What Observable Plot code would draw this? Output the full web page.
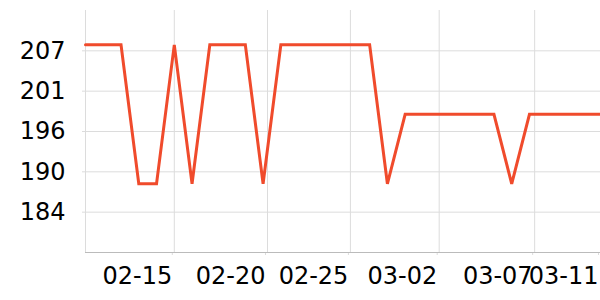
<!DOCTYPE html>
<html>
<head>
<meta charset="utf-8">
<script src="https://cdn.jsdelivr.net/npm/d3@7"></script>
<script src="https://cdn.jsdelivr.net/npm/@observablehq/plot@0.6"></script>
<style>
  html, body { margin: 0; padding: 0; background: #fff; }
</style>
</head>
<body>
<div id="chart"></div>
<script>
const dates = [
  "2023-02-10", "2023-02-11", "2023-02-12", "2023-02-13", "2023-02-14",
  "2023-02-15", "2023-02-16", "2023-02-17", "2023-02-18", "2023-02-19",
  "2023-02-20", "2023-02-21", "2023-02-22", "2023-02-23", "2023-02-24",
  "2023-02-25", "2023-02-26", "2023-02-27", "2023-02-28", "2023-03-01",
  "2023-03-02", "2023-03-03", "2023-03-04", "2023-03-05", "2023-03-06",
  "2023-03-07", "2023-03-08", "2023-03-09", "2023-03-10", "2023-03-11"
];
const values = [
  208, 208, 208, 188.2, 188.2,
  208, 188.2, 208, 208, 208,
  188.2, 208, 208, 208, 208,
  208, 208, 188.2, 198.1, 198.1,
  198.1, 198.1, 198.1, 198.1, 188.2,
  198.1, 198.1, 198.1, 198.1, 198.1
];
// tick times as they sit on the reference axis, and their labels
const xTickTimes = [
  "2023-02-15T00:00", "2023-02-20T06:00", "2023-02-24T22:00",
  "2023-03-01T22:00", "2023-03-07T07:00", "2023-03-11T00:00"
];
const xTickLabels = ["02-15", "02-20", "02-25", "03-02", "03-07", "03-11"];
const yDomain = [178.4, 212.9];
const yTicks = [184.15, 189.9, 195.65, 201.4, 207.15];
const yTickLabels = ["184", "190", "196", "201", "207"];

const parseDay = s => new Date(s + "T00:00:00Z");
const parseTime = s => new Date(s + ":00Z");
const data = dates.map((d, i) => ({ date: parseDay(d), value: values[i] }));
const xTicks = xTickTimes.map(parseTime);
const xLabelOf = new Map(xTicks.map((t, i) => [+t, xTickLabels[i]]));
const yLabelOf = new Map(yTicks.map((t, i) => [t, yTickLabels[i]]));

const chart = Plot.plot({
  width: 600,
  height: 300,
  marginLeft: 85,
  marginRight: 0,
  marginTop: 10,
  marginBottom: 48,
  style: { fontFamily: "DejaVu Sans", fontSize: "24px", background: "#fff", color: "#000" },
  x: { type: "utc", domain: [data[0].date, data[data.length - 1].date] },
  y: { domain: yDomain },
  marks: [
    Plot.gridY(yTicks, { stroke: "#dcdcdc", strokeOpacity: 1 }),
    Plot.gridX(xTicks, { stroke: "#dcdcdc", strokeOpacity: 1 }),
    Plot.ruleX([data[0].date], { stroke: "#dcdcdc" }),
    Plot.axisY(yTicks, {
      label: null, tickSize: 3, tickPadding: 17, stroke: "#dcdcdc", fill: "#000",
      fontSize: 24, tickFormat: d => yLabelOf.get(d)
    }),
    Plot.axisX(xTicks, {
      label: null, tickSize: 3, tickPadding: 11, stroke: "#dcdcdc", fill: "#000",
      fontSize: 24, textAnchor: "end", dx: -2, tickFormat: d => xLabelOf.get(+d)
    }),
    Plot.ruleY([yDomain[0]], { stroke: "#bbbbbb" }),
    Plot.lineY(data, {
      x: "date", y: "value", stroke: "#f04b2c", strokeWidth: 3,
      strokeLinejoin: "miter", strokeMiterlimit: 4
    })
  ]
});
document.getElementById("chart").appendChild(chart);
</script>
</body>
</html>
